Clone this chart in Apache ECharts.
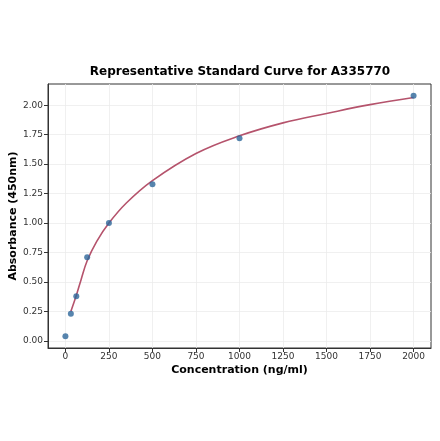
<!DOCTYPE html>
<html>
<head>
<meta charset="utf-8">
<script src="https://cdn.jsdelivr.net/npm/echarts@6/dist/echarts.min.js"></script>
<style>
  html, body { margin: 0; padding: 0; background: #fff; }
  #chart { width: 440px; height: 441px; }
</style>
</head>
<body>
<div id="chart"></div>
<script>
// standard points
var concentration = [0, 31.25, 62.5, 125, 250, 500, 1000, 2000];
var absorbance = [0.04, 0.23, 0.38, 0.71, 1.00, 1.33, 1.72, 2.08];

// fitted curve, read at a few x positions
var curveX = [31.25, 45, 62.5, 90, 125, 180, 250, 350, 500, 750, 1000, 1250, 1500, 1750, 2000];
var curveY = [0.25, 0.31, 0.385, 0.52, 0.68, 0.845, 1.00, 1.17, 1.36, 1.59, 1.74, 1.85, 1.93, 2.005, 2.065];

var xTicks = [0, 250, 500, 750, 1000, 1250, 1500, 1750, 2000];
var yTicks = [0, 0.25, 0.5, 0.75, 1.0, 1.25, 1.5, 1.75, 2.0];

var points = concentration.map(function (c, i) { return [c, absorbance[i]]; });
var curve = curveX.map(function (c, i) { return [c, curveY[i]]; });

var font = 'DejaVu Sans';
var myChart = echarts.init(document.getElementById('chart'));

var option = {
  animation: false,
  title: {
    text: 'Representative Standard Curve for A335770',
    left: 235,
    top: 61,
    textAlign: 'center',
    textStyle: { fontFamily: font, fontSize: 12, fontWeight: 'bold', color: '#000' }
  },
  grid: {
    left: 48, right: 9, top: 84, bottom: 93,
    outerBoundsMode: 'none',
    containLabel: false,
    show: true, borderColor: '#333', borderWidth: 1
  },
  xAxis: {
    type: 'value',
    min: -100,
    max: 2100,
    name: 'Concentration (ng/ml)',
    nameLocation: 'middle',
    nameGap: 17,
    nameMoveOverlap: false,
    nameTextStyle: { fontFamily: font, fontSize: 11, fontWeight: 'bold', color: '#000' },
    axisLine: { show: true, onZero: false, lineStyle: { color: '#333' } },
    axisTick: { show: true, length: 4, customValues: xTicks, lineStyle: { color: '#333' } },
    axisLabel: {
      customValues: xTicks, fontFamily: font, fontSize: 9, color: '#333', margin: 4,
      formatter: function (v) { return String(v); }
    },
    splitLine: { show: true, lineStyle: { color: '#ececec', width: 0.8 } }
  },
  yAxis: {
    type: 'value',
    min: -0.06,
    max: 2.18,
    name: 'Absorbance (450nm)',
    nameLocation: 'middle',
    nameGap: 29,
    nameMoveOverlap: false,
    nameTextStyle: { fontFamily: font, fontSize: 11, fontWeight: 'bold', color: '#000' },
    axisLine: { show: true, onZero: false, lineStyle: { color: '#333' } },
    axisTick: { show: true, length: 4, customValues: yTicks, lineStyle: { color: '#333' } },
    axisLabel: {
      customValues: yTicks, fontFamily: font, fontSize: 9, color: '#333', margin: 5,
      formatter: function (v) { return v.toFixed(2); }
    },
    splitLine: { show: true, lineStyle: { color: '#ececec', width: 0.8 } }
  },
  series: [
    {
      name: 'fit',
      type: 'line',
      data: curve,
      smooth: 0.4,
      showSymbol: false,
      lineStyle: { color: '#b5536c', width: 1.6 },
      z: 2
    },
    {
      name: 'standards',
      type: 'scatter',
      data: points,
      symbolSize: 6,
      itemStyle: { color: '#2d679a' },
      z: 3
    }
  ]
};

myChart.setOption(option);
</script>
</body>
</html>
